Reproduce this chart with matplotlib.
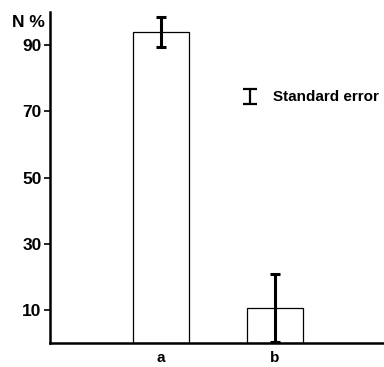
import matplotlib.pyplot as plt

plt.rcParams['font.family'] = ['Liberation Sans', 'DejaVu Sans']
plt.rcParams['font.weight'] = 'bold'

categories = ['a', 'b']
values = [94.0, 10.5]
errors = [4.5, 10.3]
yticks = [10, 30, 50, 70, 90]


def main():
    fig = plt.figure(figsize=(3.84, 3.67), dpi=100)
    ax = fig.add_axes([0.130, 0.065, 0.87, 0.902])

    pos = [1, 2]
    ax.bar(pos, values, width=0.49, color='white', edgecolor='black', linewidth=0.9, zorder=2)
    ax.errorbar(pos, values, yerr=errors, fmt='none', ecolor='black',
                elinewidth=2.2, capsize=3.6, capthick=2.2, zorder=3)

    ax.set_xlim(0.026, 2.956)
    ax.set_ylim(0, 100)
    ax.set_yticks(yticks)
    ax.set_yticklabels([str(t) for t in yticks], fontsize=12.5, fontweight='bold')
    ax.set_xticks(pos)
    ax.set_xticklabels(categories, fontsize=11, fontweight='bold')
    ax.tick_params(axis='x', length=0, pad=6)
    ax.tick_params(axis='y', length=4, width=1.2, pad=2, direction='out')

    for side in ['top', 'right']:
        ax.spines[side].set_visible(False)
    ax.spines['left'].set_linewidth(1.8)
    ax.spines['bottom'].set_linewidth(1.8)

    fig.text(0.031, 0.94, 'N %', fontsize=12.5, fontweight='bold', va='center')

    # legend marker for standard error
    ax.errorbar([1.78], [74.5], yerr=[2.3], fmt='none', ecolor='black',
                elinewidth=1.6, capsize=4.7, capthick=1.6, clip_on=False)
    ax.text(1.98, 74.5, 'Standard error', fontsize=11, fontweight='bold', va='center')

    fig.savefig('out.png', dpi=100)


if __name__ == '__main__':
    main()
